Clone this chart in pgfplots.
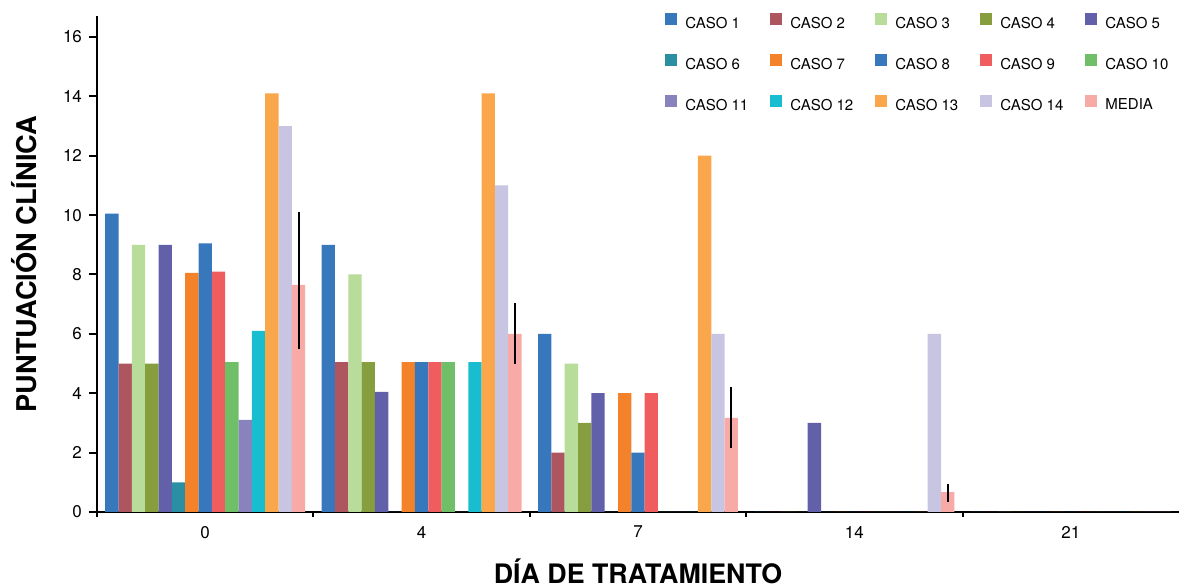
\documentclass[border=0pt]{standalone}
\usepackage{fontspec}
\setmainfont{TeX Gyre Heros}
\usepackage{pgfplots}
\usepackage{pgfplotstable}
\pgfplotsset{compat=1.18}

\definecolor{c1}{HTML}{3778BD}
\definecolor{c2}{HTML}{AD5660}
\definecolor{c3}{HTML}{B8DC9A}
\definecolor{c4}{HTML}{879E3E}
\definecolor{c5}{HTML}{6360AA}
\definecolor{c6}{HTML}{2A8FA3}
\definecolor{c7}{HTML}{F3822A}
\definecolor{c8}{HTML}{3778BD}
\definecolor{c9}{HTML}{F05D5E}
\definecolor{c10}{HTML}{6EBF68}
\definecolor{c11}{HTML}{8882BD}
\definecolor{c12}{HTML}{19BDD0}
\definecolor{c13}{HTML}{FAA64A}
\definecolor{c14}{HTML}{C8C5E2}
\definecolor{cm}{HTML}{F7AAA6}

\pgfplotstableread{
x c1 c2 c3 c4 c5 c6 c7 c8 c9 c10 c11 c12 c13 c14 m ep em
0 10.05 5 9 5 9 1 8.05 9.05 8.1 5.05 3.1 6.1 14.1 13 7.65 2.46 2.17
1 9 5.05 8 5.05 4.05 0 5.05 5.05 5.05 5.05 0 5.05 14.1 11 6.0 1.05 1.0
2 6 2 5 3 4 0 4 2 4 0 0 0 12 6 3.17 1.05 1.0
3 0 0 0 0 3 0 0 0 0 0 0 0 0 6 0.67 0.28 0.34
4 0 0 0 0 0 0 0 0 0 0 0 0 0 0 0 0 0
}\datatable

\newcommand{\legbox}[1]{\makebox[42.5pt][l]{#1}}

\begin{document}
\begin{tikzpicture}
\begin{axis}[
  at={(48.5pt,37.5pt)}, anchor=south west,
  scale only axis, width=541pt, height=247.9pt,
  xmin=-0.5, xmax=4.5, ymin=0, ymax=16.7,
  axis lines*=left,
  axis line style={line width=1.25pt},
  ybar=0pt, bar width=0.0616,
  every axis plot/.append style={draw=none,
    legend image code/.code={\draw[##1,draw=none] (0pt,-0.3pt) rectangle (6pt,5.7pt);}},
  ytick={0,2,...,16},
  xtick={-0.5,0.5,1.5,2.5,3.5}, xticklabels={,,,,,},
  extra x ticks={0,1,2,3,4}, extra x tick labels={0,4,7,14,21},
  extra x tick style={tick style={draw=none}},
  tick align=outside,
  major tick length=4pt,
  tick style={line width=1pt, black},
  xtick style={/pgfplots/major tick length=2.5pt},
  /pgf/number format/assume math mode=true,
  ticklabel style={font=\fontsize{8.5}{9}\selectfont},
  xticklabel style={yshift=0.5pt},
  xlabel={\bfseries DÍA DE TRATAMIENTO},
  ylabel={\bfseries PUNTUACIÓN CLÍNICA},
  xlabel style={font=\fontsize{13.4}{14}\selectfont, at={(axis description cs:0.5,0)}, anchor=base, yshift=-36pt},
  ylabel style={font=\fontsize{13.6}{14}\selectfont, at={(axis description cs:-0.0555,0.5)}, anchor=south, inner sep=0pt},
  legend columns=5,
  legend cell align=left,
  legend style={draw=none, fill=none, at={(axis description cs:0.525,1)}, anchor=north west,
    yshift=2pt,
    inner sep=0pt, font=\fontsize{7.5}{8}\selectfont, row sep=11.25pt,
    nodes={inner sep=0pt},
    /tikz/every odd column/.style={column sep=4pt},
    /tikz/every even column/.style={column sep=0pt}},
]
\addplot[fill=c1] table[x=x,y=c1]{\datatable};
\addplot[fill=c2] table[x=x,y=c2]{\datatable};
\addplot[fill=c3] table[x=x,y=c3]{\datatable};
\addplot[fill=c4] table[x=x,y=c4]{\datatable};
\addplot[fill=c5] table[x=x,y=c5]{\datatable};
\addplot[fill=c6] table[x=x,y=c6]{\datatable};
\addplot[fill=c7] table[x=x,y=c7]{\datatable};
\addplot[fill=c8] table[x=x,y=c8]{\datatable};
\addplot[fill=c9] table[x=x,y=c9]{\datatable};
\addplot[fill=c10] table[x=x,y=c10]{\datatable};
\addplot[fill=c11] table[x=x,y=c11]{\datatable};
\addplot[fill=c12] table[x=x,y=c12]{\datatable};
\addplot[fill=c13] table[x=x,y=c13]{\datatable};
\addplot[fill=c14] table[x=x,y=c14]{\datatable};
\addplot[fill=cm, error bars/.cd, y dir=both, y explicit, error mark=none,
  error bar style={line width=1pt, black}]
  table[x=x,y=m,y error plus=ep,y error minus=em]{\datatable};
\legend{\legbox{CASO 1},\legbox{CASO 2},\legbox{CASO 3},\legbox{CASO 4},\legbox{CASO 5},
\legbox{CASO 6},\legbox{CASO 7},\legbox{CASO 8},\legbox{CASO 9},\legbox{CASO 10},
\legbox{CASO 11},\legbox{CASO 12},\legbox{CASO 13},\legbox{CASO 14},\legbox{MEDIA}}
\end{axis}
\pgfresetboundingbox
\path[use as bounding box] (0,0) rectangle (589.5pt,293.5pt);
\end{tikzpicture}
\end{document}
